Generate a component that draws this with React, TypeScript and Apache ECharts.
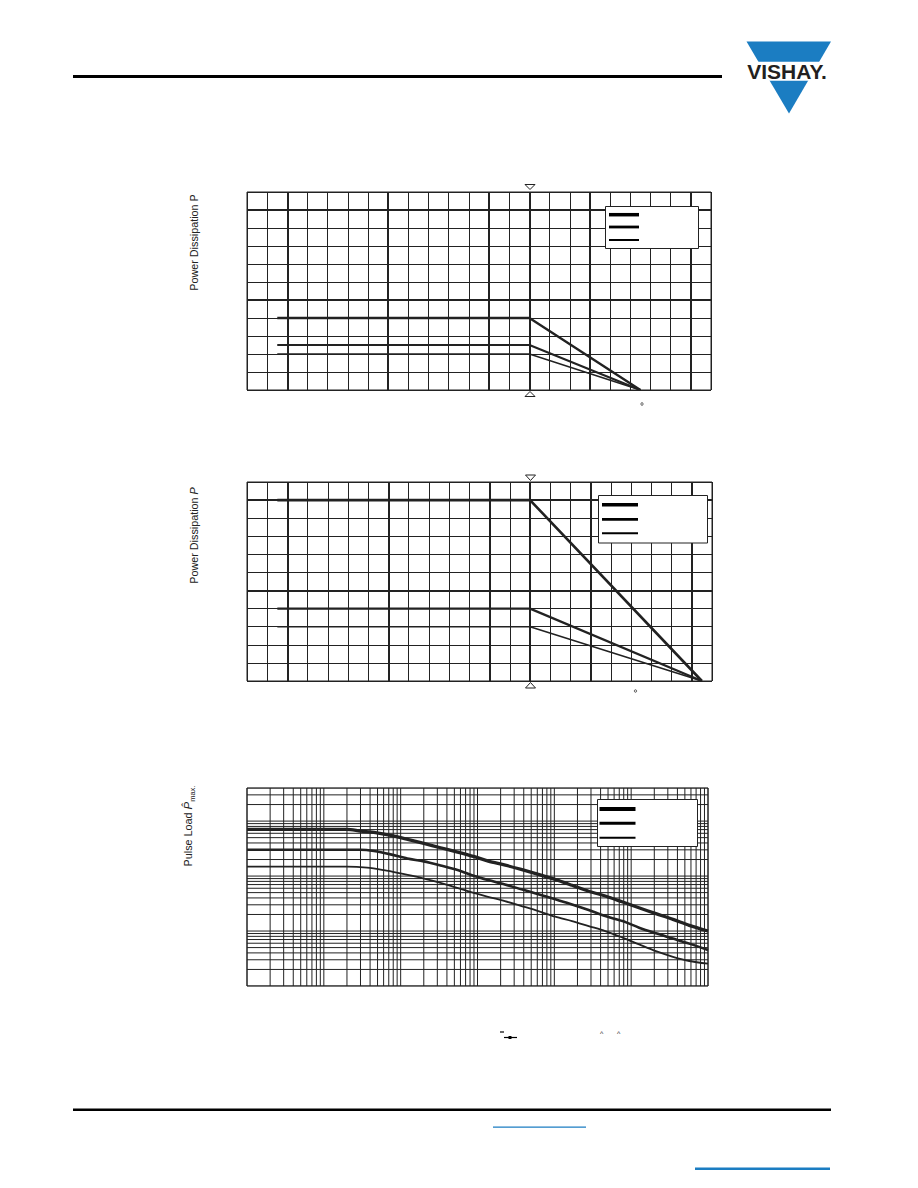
import React, { useEffect, useRef } from "react";
import * as echarts from "echarts";

// ---------- data ----------
// Figure 1: power dissipation vs ambient temperature (derating to 125 °C)
const deratingTemps1 = [-55, 70, 125];
const powerA1 = [0.4, 0.4, 0];
const powerB1 = [0.25, 0.25, 0];
const powerC1 = [0.2, 0.2, 0];

// Figure 2: power dissipation vs ambient temperature (derating to 155 °C)
const deratingTemps2 = [-55, 70, 155];
const powerA2 = [1.0, 1.0, 0];
const powerB2 = [0.4, 0.4, 0];
const powerC2 = [0.3, 0.3, 0];

// temperature axis / grid
const tempMin = -70;
const tempMax = 160;
const tempStep = 10;
const tempMajor = [-50, 0, 50, 100, 150];
const ratedTemp = 70;
const powerMin = 0;
const powerMax = 1.1;
const powerStep = 0.1;
const powerMajor = [0.5, 1.0];

// Figure 3: single pulse load vs pulse duration (log-log)
const pulseTimeA = [1e-6, 2.0e-5, 3.0e-5, 4.7e-5, 7.4e-5, 1.23e-4, 2.0e-4, 3.3e-4, 5.5e-4, 9.1e-4, 1.38e-3, 2.3e-3, 3.7e-3, 6.2e-3, 0.0102, 0.017, 0.028, 0.047, 0.076, 0.126, 0.21, 0.35, 0.57, 1];
const pulseLoadA = [705, 705, 658, 614, 548, 465, 393, 327, 273, 225, 187, 158, 132, 107, 87, 68, 53, 43, 34, 26.5, 20.7, 16.3, 12.7, 10];
const pulseTimeB = [1e-6, 3.0e-5, 4.5e-5, 7.4e-5, 1.22e-4, 2.0e-4, 3.3e-4, 5.5e-4, 9.1e-4, 1.37e-3, 2.27e-3, 3.75e-3, 6.2e-3, 0.0103, 0.017, 0.028, 0.046, 0.077, 0.127, 0.21, 0.35, 0.57, 1];
const pulseLoadB = [301, 301, 285, 248, 209, 185, 156, 129, 100, 84.5, 70.5, 57.3, 46.5, 37.7, 30.5, 24.1, 18.7, 15.2, 11.5, 9.1, 7.3, 5.9, 4.5];
const pulseTimeC = [1e-6, 2.0e-5, 3.65e-5, 6.05e-5, 1.0e-4, 1.65e-4, 2.73e-4, 4.5e-4, 7.5e-4, 1.37e-3, 2.27e-3, 3.75e-3, 6.2e-3, 0.0103, 0.017, 0.028, 0.046, 0.077, 0.127, 0.21, 0.35, 0.57, 1];
const pulseLoadC = [148, 148, 142, 128, 112, 97, 81, 66, 53, 42, 35, 28.5, 23.1, 18.2, 15.2, 12.3, 10, 7.6, 5.7, 4.3, 3.4, 2.85, 2.55];

const timeMin = 1e-6;
const timeMax = 1;
const loadMin = 1;
const loadMax = 4000;
const timeDecades = [-6, -5, -4, -3, -2, -1];
const loadDecades = [0, 1, 2];
const loadTopMultipliers = [1, 2, 3, 4];
const logMultipliers = [1, 2, 3, 4, 5, 6, 7, 8, 9];

// ---------- helpers ----------
const INK = "#222222";
const BLUE = "#1b7dc2";
const FONT = "'Liberation Sans', Arial, Helvetica, sans-serif";

const pairs = (xs: number[], ys: number[]) => xs.map((x, i) => [x, ys[i]]);

const lineItems = (axis: "xAxis" | "yAxis", values: number[], width: number) =>
  values.map((v) => ({ [axis]: v, lineStyle: { width, color: INK, type: "solid" } }));

const gridSeries = (idx: number, data: any[]) => ({
  type: "line",
  xAxisIndex: idx,
  yAxisIndex: idx,
  data: [],
  silent: true,
  z: 1,
  markLine: {
    silent: true,
    symbol: "none",
    precision: 10,
    label: { show: false },
    emphasis: { disabled: true },
    animation: false,
    data,
  },
});

const rule = (idx: number, data: number[][]) => ({
  type: "line",
  xAxisIndex: idx,
  yAxisIndex: idx,
  data,
  showSymbol: false,
  symbol: "none",
  silent: true,
  z: 1,
  lineStyle: { color: INK, width: 1 },
});

const curve = (idx: number, data: number[][], width: number, smooth: number | boolean = false) => ({
  type: "line",
  xAxisIndex: idx,
  yAxisIndex: idx,
  data,
  smooth,
  showSymbol: false,
  symbol: "none",
  silent: true,
  z: 5,
  lineStyle: { color: INK, width, cap: "butt", join: "round" },
});

const hiddenAxisBase = {
  axisLabel: { show: false },
  axisTick: { show: false },
  axisLine: { show: false },
};

const linearX = (idx: number) => ({
  ...hiddenAxisBase,
  type: "value",
  gridIndex: idx,
  min: tempMin,
  max: tempMax,
  interval: tempStep,
  splitLine: { show: true, lineStyle: { color: INK, width: 1 } },
});
const linearY = (idx: number) => ({
  ...hiddenAxisBase,
  type: "value",
  gridIndex: idx,
  min: powerMin,
  max: powerMax,
  interval: powerStep,
  splitLine: { show: true, lineStyle: { color: INK, width: 1 } },
});

const legendBox = (x: number, y: number, w: number, h: number, lx: number, lw: number, ys: number[], widths: number[]) => [
  { type: "rect", z: 100, shape: { x, y, width: w, height: h }, style: { fill: "#fff", stroke: INK, lineWidth: 1 } },
  ...ys.map((yy, i) => ({
    type: "line",
    z: 101,
    shape: { x1: lx, y1: yy, x2: lx + lw, y2: yy },
    style: { stroke: "#000", lineWidth: widths[i] },
  })),
];

const tri = (cx: number, yBase: number, yTip: number) => ({
  type: "polygon",
  z: 100,
  shape: { points: [[cx - 5, yBase], [cx + 5, yBase], [cx, yTip]] },
  style: { fill: "#fff", stroke: INK, lineWidth: 1 },
});

export default function App() {
  const ref = useRef<HTMLDivElement>(null);

  useEffect(() => {
    if (!ref.current) return;
    const chart = echarts.init(ref.current, undefined, { renderer: "svg" });

    const timeGrid: number[] = [];
    timeDecades.forEach((k) => logMultipliers.forEach((m) => timeGrid.push(m * Math.pow(10, k))));
    timeGrid.push(timeMax);
    const loadGrid: number[] = [];
    loadDecades.forEach((k) => logMultipliers.forEach((m) => loadGrid.push(m * Math.pow(10, k))));
    loadTopMultipliers.forEach((m) => loadGrid.push(m * 1000));

    const logRules = [
      ...timeGrid.map((t) => rule(2, [[t, loadMin], [t, loadMax]])),
      ...loadGrid.map((p) => rule(2, [[timeMin, p], [timeMax, p]])),
    ];

    const option: any = {
      animation: false,
      backgroundColor: "#ffffff",
      textStyle: { fontFamily: FONT },
      grid: [
        { left: 247, top: 192, width: 464, height: 198, show: true, borderColor: INK, borderWidth: 1, containLabel: false, outerBoundsMode: "none" },
        { left: 247, top: 482, width: 465, height: 199, show: true, borderColor: INK, borderWidth: 1, containLabel: false, outerBoundsMode: "none" },
        { left: 247, top: 788, width: 461, height: 198, show: true, borderColor: INK, borderWidth: 1, containLabel: false, outerBoundsMode: "none" },
      ],
      xAxis: [
        linearX(0),
        linearX(1),
        { ...hiddenAxisBase, type: "log", logBase: 10, gridIndex: 2, min: timeMin, max: timeMax, splitLine: { show: false } },
      ],
      yAxis: [
        linearY(0),
        linearY(1),
        { ...hiddenAxisBase, type: "log", logBase: 10, gridIndex: 2, min: loadMin, max: loadMax, splitLine: { show: false } },
      ],
      series: [
        gridSeries(0, [...lineItems("xAxis", tempMajor, 2), ...lineItems("xAxis", [ratedTemp], 2), ...lineItems("yAxis", powerMajor, 2)]),
        curve(0, pairs(deratingTemps1, powerA1), 2.4),
        curve(0, pairs(deratingTemps1, powerB1), 2),
        curve(0, pairs(deratingTemps1, powerC1), 1.5),

        gridSeries(1, [...lineItems("xAxis", tempMajor, 2), ...lineItems("xAxis", [ratedTemp], 2), ...lineItems("yAxis", powerMajor, 2)]),
        curve(1, pairs(deratingTemps2, powerA2), 2.6),
        curve(1, pairs(deratingTemps2, powerB2), 2.2),
        curve(1, pairs(deratingTemps2, powerC2), 1.6),

        ...logRules,
        curve(2, pairs(pulseTimeA, pulseLoadA), 3.3, 0.3),
        curve(2, pairs(pulseTimeB, pulseLoadB), 2.6, 0.3),
        curve(2, pairs(pulseTimeC, pulseLoadC), 1.8, 0.3),
      ],
      graphic: [
        // header
        { type: "rect", z: 100, shape: { x: 73, y: 75, width: 649, height: 3 }, style: { fill: "#000" } },
        { type: "polygon", z: 100, shape: { points: [[746.5, 41.5], [831, 41.5], [789, 113.5]] }, style: { fill: BLUE } },
        { type: "rect", z: 101, shape: { x: 738, y: 61.8, width: 100, height: 19 }, style: { fill: "#fff" } },
        {
          type: "text", z: 102, x: 787, y: 71,
          style: { text: "VISHAY.", fontFamily: FONT, fontWeight: "bold", fontSize: 21, fill: "#231f20", align: "center", verticalAlign: "middle" },
        },
        // footer
        { type: "rect", z: 100, shape: { x: 73, y: 1108.5, width: 758, height: 2.5 }, style: { fill: "#000" } },
        { type: "rect", z: 100, shape: { x: 493, y: 1126.5, width: 93, height: 1.3 }, style: { fill: BLUE } },
        { type: "rect", z: 100, shape: { x: 695, y: 1167.4, width: 135, height: 2.6 }, style: { fill: BLUE } },

        // axis titles
        {
          type: "text", z: 100, x: 194, y: 242.5, rotation: Math.PI / 2,
          style: { text: "Power Dissipation P", fontFamily: FONT, fontSize: 10.8, fill: INK, align: "center", verticalAlign: "middle" },
        },
        {
          type: "text", z: 100, x: 194, y: 535.5, rotation: Math.PI / 2,
          style: {
            text: "{a|Power Dissipation }{b|P}",
            fontFamily: FONT, fill: INK, align: "center", verticalAlign: "middle",
            rich: {
              a: { fontSize: 10.8, fontFamily: FONT, fill: INK, lineHeight: 14 },
              b: { fontSize: 10.8, fontFamily: FONT, fontStyle: "italic", fill: INK, lineHeight: 14 },
            },
          },
        },
        {
          type: "text", z: 100, x: 188, y: 826, rotation: Math.PI / 2,
          style: {
            text: "{a|Pulse Load }{b|P\u0302}{c|max.}",
            fontFamily: FONT, fill: INK, align: "center", verticalAlign: "middle",
            rich: {
              a: { fontSize: 10.8, fontFamily: FONT, fill: INK, lineHeight: 16, verticalAlign: "middle" },
              b: { fontSize: 11.5, fontFamily: FONT, fontStyle: "italic", fill: INK, lineHeight: 16, verticalAlign: "middle" },
              c: { fontSize: 7.5, fontFamily: FONT, fill: INK, lineHeight: 16, verticalAlign: "bottom" },
            },
          },
        },

        // rated-temperature markers
        tri(530, 184.5, 189.5),
        tri(530, 396.5, 391.5),
        tri(530.5, 475, 480.5),
        tri(530.5, 688, 682.5),

        // degree remnants
        { type: "circle", z: 100, shape: { cx: 642, cy: 404, r: 1.2 }, style: { fill: "none", stroke: INK, lineWidth: 0.8 } },
        { type: "circle", z: 100, shape: { cx: 635.5, cy: 691, r: 1.2 }, style: { fill: "none", stroke: INK, lineWidth: 0.8 } },

        // legends
        ...legendBox(605.5, 206.5, 93, 42, 609, 30, [214.7, 227, 240], [3.5, 2.8, 2]),
        ...legendBox(598.5, 495.5, 109, 47.5, 602, 36, [504.7, 519.3, 533.3], [3.5, 2.8, 2]),
        ...legendBox(597.5, 799.5, 100, 47, 599.5, 36, [809, 823.3, 837.7], [4, 3, 2]),

        // formula remnants below figure 3
        { type: "line", z: 100, shape: { x1: 500, y1: 1032, x2: 504, y2: 1032 }, style: { stroke: "#000", lineWidth: 1.2 } },
        { type: "line", z: 100, shape: { x1: 504, y1: 1037.5, x2: 517, y2: 1037.5 }, style: { stroke: "#000", lineWidth: 1.2 } },
        { type: "rect", z: 100, shape: { x: 508.5, y: 1036, width: 3, height: 3 }, style: { fill: "#000" } },
        { type: "text", z: 100, x: 601.7, y: 1033, style: { text: "^", fontFamily: FONT, fontSize: 7, fill: INK, align: "center", verticalAlign: "middle" } },
        { type: "text", z: 100, x: 618.7, y: 1033, style: { text: "^", fontFamily: FONT, fontSize: 7, fill: INK, align: "center", verticalAlign: "middle" } },
      ],
    };

    chart.setOption(option);
    return () => chart.dispose();
  }, []);

  return <div ref={ref} style={{ position: "absolute", left: 0, top: 0, width: 918, height: 1188 }} />;
}
